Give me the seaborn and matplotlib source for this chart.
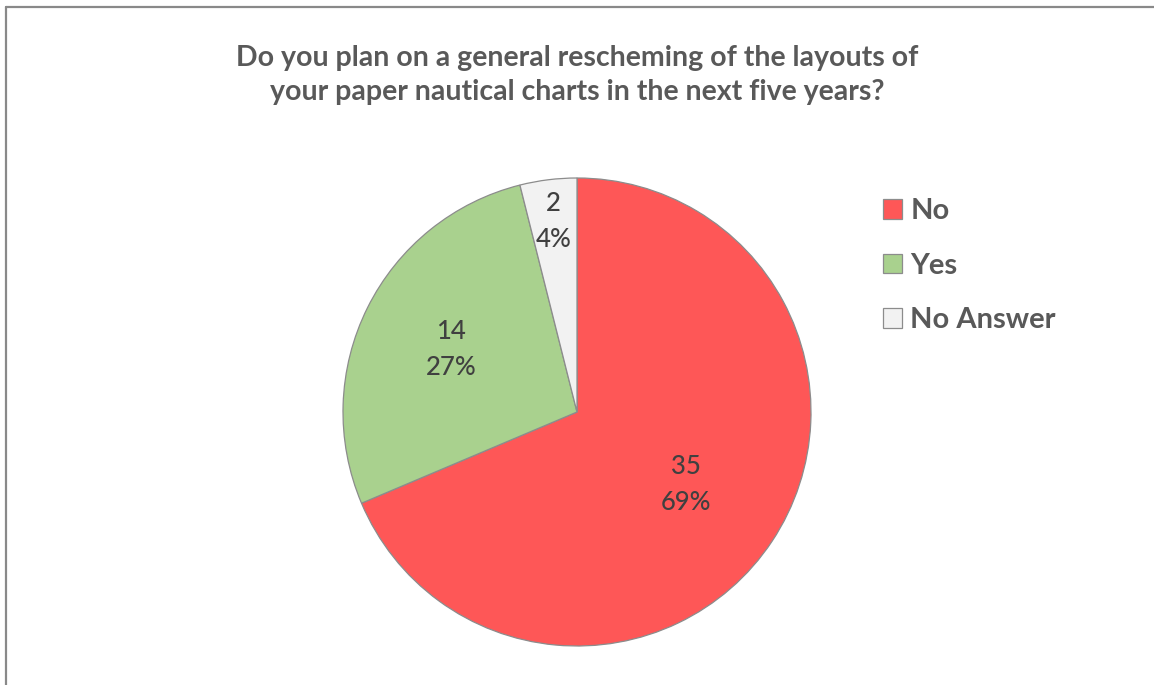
import matplotlib
matplotlib.use("Agg")
import matplotlib.pyplot as plt
from matplotlib.lines import Line2D
import numpy as np
import seaborn as sns

# Survey answers
categories = ["No", "Yes", "No Answer"]
counts = [35, 14, 2]
percent_labels = ["69%", "27%", "4%"]
slice_colors = ["#FE5757", "#A9D18E", "#F2F2F2"]
label_radius = [0.56, 0.60, 0.82]

title = ("Do you plan on a general rescheming of the layouts of\n"
         "your paper nautical charts in the next five years?")

sns.set_theme(style="white")
plt.rcParams["font.family"] = ["Lato", "DejaVu Sans"]

W, H, DPI = 1154, 685, 100
fig = plt.figure(figsize=(W / DPI, H / DPI), dpi=DPI)
fig.patch.set_facecolor("white")

# Pie axes: centre (577, 412) px, radius 234 px
cx, cy, r = 577, 412, 234
ax = fig.add_axes([(cx - r) / W, (H - cy - r) / H, 2 * r / W, 2 * r / H])

wedges, _ = ax.pie(
    counts,
    colors=slice_colors,
    startangle=90,
    counterclock=False,
    radius=1.0,
    wedgeprops=dict(edgecolor="#8C8C8C", linewidth=0.9),
)
ax.set_xlim(-1, 1)
ax.set_ylim(-1, 1)
ax.set_aspect("equal")
ax.axis("off")

for w, n, pct, lr in zip(wedges, counts, percent_labels, label_radius):
    mid = np.deg2rad((w.theta1 + w.theta2) / 2)
    x, y = lr * np.cos(mid), lr * np.sin(mid)
    ax.text(x, y, f"{n}\n{pct}", ha="center", va="center",
            fontsize=18.5, fontweight="medium", color="#404040",
            linespacing=1.55)

fig.text(cx / W, 1 - 75 / H, title, ha="center", va="center",
         fontsize=20.5, fontweight="bold", color="#595959", linespacing=1.35)

leg = fig.legend(
    wedges, categories,
    loc="upper left",
    bbox_to_anchor=(883 / W, 1 - 198 / H),
    frameon=False,
    borderpad=0,
    borderaxespad=0,
    prop=dict(size=21, weight="bold"),
    labelcolor="#595959",
    handlelength=0.66,
    handleheight=0.66,
    handletextpad=0.28,
    labelspacing=0.98,
)

# Frame edges along the top and left
fig.add_artist(Line2D([6 / W, 1.0], [1 - 7 / H, 1 - 7 / H],
                      transform=fig.transFigure, color="#898989", linewidth=1.6))
fig.add_artist(Line2D([6 / W, 6 / W], [0.0, 1 - 7 / H],
                      transform=fig.transFigure, color="#898989", linewidth=1.6))

fig.savefig("out.png", dpi=DPI, facecolor="white")
